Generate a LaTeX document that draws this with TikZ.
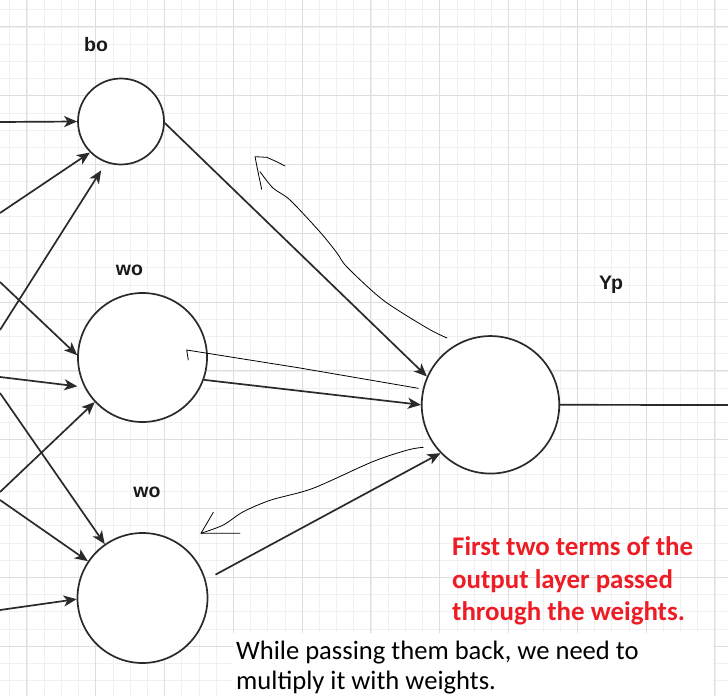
\documentclass[tikz,border=0pt]{standalone}
\usepackage{fontspec}
\setmainfont{Carlito}
\newfontfamily\labelfont{Liberation Sans}
\usetikzlibrary{arrows.meta,calc,positioning}
\pgfdeclarelayer{gridlayer}
\pgfsetlayers{gridlayer,main}
\definecolor{minorline}{HTML}{F0F0F0}
\definecolor{majorline}{HTML}{DEDEDE}
\definecolor{notered}{HTML}{EE1C25}
\definecolor{edge}{HTML}{2A2A2A}

\tikzset{
    neuron/.style={circle, draw=edge, fill=white, line width=1.7pt, inner sep=0pt},
    wire/.style={draw=edge, line width=1.7pt},
    feed/.style={wire, -{Stealth[length=13pt,width=11pt,inset=3.5pt]}},
    tag/.style={font=\labelfont\bfseries\fontsize{19.5}{22}\selectfont, text=black!90},
    pen/.style={black, line width=0.8pt, line join=round, line cap=round},
}

\begin{document}
\begin{tikzpicture}[x=1pt, y=-1pt]
    \useasboundingbox (0,0) rectangle (728,696);
    \begin{pgfonlayer}{gridlayer}
        \fill[white] (0,0) rectangle (728,696);
        \foreach \i in {0,...,42} {
            \draw[minorline, line width=0.8pt] ({9.7+17.2*\i},0) -- ++(0,696);
            \draw[minorline, line width=0.8pt] (0,{9.7+17.2*\i}) -- ++(728,0);
        }
        \foreach \i in {0,...,10} {
            \draw[majorline, line width=0.9pt] ({26.9+68.8*\i},0) -- ++(0,696);
            \draw[majorline, line width=0.9pt] (0,{26.9+68.8*\i}) -- ++(728,0);
        }
    \end{pgfonlayer}

    % neurons
    \node [neuron, minimum size=86pt] (bo) at (121, 121.5) {};
    \node [neuron, minimum size=129pt] (wa) at (142.5, 357.5) {};
    \node [neuron, minimum size=130pt] (wb) at (142.5, 598) {};
    \node [neuron, minimum size=137.5pt] (yp) at (490.5, 404.8) {};

    \node [tag] (lbo) at (96, 45) {bo};
    \node [tag] (lwa) at (129.5, 270) {wo};
    \node [tag] (lwb) at (147, 492) {wo};
    \node [tag] (lyp) at (611, 285) {Yp};

    % loose ends at the left border
    \coordinate (ia1) at (0, 122);
    \coordinate (ia2) at (0, 213);
    \coordinate (ia3) at (0, 330);
    \coordinate (ib1) at (0, 282);
    \coordinate (ib2) at (0, 377);
    \coordinate (ib3) at (0, 492);
    \coordinate (ic1) at (0, 393);
    \coordinate (ic2) at (0, 500);
    \coordinate (ic3) at (0, 610);
    \coordinate (out) at (730, 405);

    \draw [feed] (ia1) -- (bo.180);
    \draw [feed] (ia2) -- (bo.225);
    \draw [feed, shorten >=9pt] (ia3) -- (bo.250);
    \draw [feed] (ib1) -- (wa.178);
    \draw [feed, shorten >=7pt] (ib2) -- (wa.207);
    \draw [feed] (ib3) -- (wa.223);
    \draw [feed] (ic1) -- (wb.125);
    \draw [feed] (ic2) -- (wb.146);
    \draw [feed] (ic3) -- (wb.181);

    \draw [feed] (bo.358) -- (yp.156);
    \draw [feed] (wa.340) -- (yp.180);
    \draw [feed, shorten <=11pt] (wb.16) -- (yp.224);
    \draw [wire] (yp.east) -- (out);

    % hand drawn strokes
    \draw [pen] plot [smooth] coordinates {(447,338) (427,328) (383,300) (347,267) (337,253) (320,232) (290,200) (273,188) (260,171.7)};
    \draw [pen] (261.7,189.3) -- (258.3,173.3) -- (255,156.7) -- (266.7,157.3) -- (276.7,161.7) -- (285,166);
    \draw [pen] (418.3,388.3) -- (300,368) -- (186.7,350) -- (188.3,360);
    \draw [pen] plot [smooth] coordinates {(423.3,447.3) (407.6,450) (372.6,461.7) (313,488.3) (271,500) (243.3,511.7) (223.3,525) (201,533.3)};
    \draw [pen] (213.3,512.3) -- (201,533.3) -- (240,533.3);

    % notes
    \node [anchor=north west, inner sep=0pt, align=left, text=notered,
           font=\bfseries\fontsize{26.9}{32.5}\selectfont] (note) at (452, 536.5) {First two terms of the\\output layer passed\\through the weights.};
    \fill [white] (233, 633) rectangle (713, 700);
    \node [anchor=north west, inner sep=0pt, align=left,
           font=\fontsize{26.6}{30}\selectfont] (hint) at (236, 640.5) {While passing them back, we need to\\multiply it with weights.};
\end{tikzpicture}
\end{document}
